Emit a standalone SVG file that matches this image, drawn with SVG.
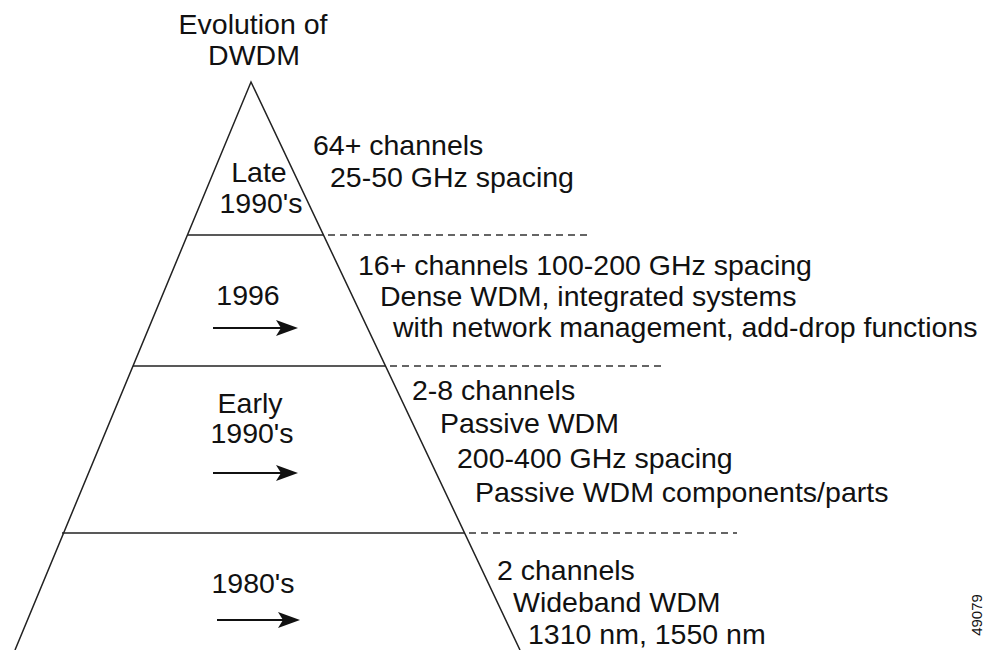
<svg xmlns="http://www.w3.org/2000/svg" width="1000" height="650" viewBox="0 0 1000 650">
<style>
text{font-family:"Liberation Sans",Arial,sans-serif;font-size:28.5px;fill:#111}
.c{text-anchor:middle}
.solid{stroke:#222;stroke-width:1.5;fill:none}
.dash{stroke:#333;stroke-width:1.5;stroke-dasharray:7 5;fill:none}
.arr{stroke:#111;stroke-width:2;fill:none}
.head{fill:#111}
</style>
<rect width="1000" height="650" fill="#fff"/>
<g id="title"><text class="c" x="253" y="34">Evolution of</text><text class="c" x="254" y="65">DWDM</text></g>
<g id="pyramid">
<polyline class="solid" points="15,650 251,82 520,650"/>
</g>
<g id="connectors">
<line class="solid" x1="188" y1="235" x2="324" y2="235"/>
<line class="dash" x1="328" y1="235" x2="592" y2="235"/>
<line class="solid" x1="133" y1="366" x2="386" y2="366"/>
<line class="dash" x1="390" y1="366" x2="666" y2="366"/>
<line class="solid" x1="62" y1="533" x2="465" y2="533"/>
<line class="dash" x1="469" y1="533" x2="737" y2="533"/>
<line class="arr" x1="213" y1="328" x2="282" y2="328"/><polygon class="head" points="298,328 276,320 281,328 276,336"/>
<line class="arr" x1="213" y1="473" x2="282" y2="473"/><polygon class="head" points="298,473 276,465 281,473 276,481"/>
<line class="arr" x1="217" y1="620" x2="284" y2="620"/><polygon class="head" points="300,620 278,612 283,620 278,628"/>
</g>
<g id="late">
<text class="c" x="259" y="182">Late</text><text class="c" x="261" y="213">1990's</text>
<text x="313" y="155">64+ channels</text><text x="330" y="187">25-50 GHz spacing</text>
</g>
<g id="y1996">
<text class="c" x="248" y="305">1996</text>
<text x="358" y="275">16+ channels 100-200 GHz spacing</text>
<text x="380" y="306">Dense WDM, integrated systems</text>
<text x="393" y="337">with network management, add-drop functions</text>
</g>
<g id="early">
<text class="c" x="250" y="413">Early</text><text class="c" x="252" y="443">1990's</text>
<text x="412" y="400">2-8 channels</text>
<text x="440" y="433">Passive WDM</text>
<text x="457" y="468">200-400 GHz spacing</text>
<text x="475" y="502">Passive WDM components/parts</text>
</g>
<g id="y1980">
<text class="c" x="253" y="593">1980's</text>
<text x="497" y="580">2 channels</text>
<text x="513" y="612">Wideband WDM</text>
<text x="528" y="644">1310 nm, 1550 nm</text>
</g>
<g id="fignum"><text class="c" transform="translate(982,615) rotate(-90)" style="font-size:15px">49079</text></g>
</svg>
